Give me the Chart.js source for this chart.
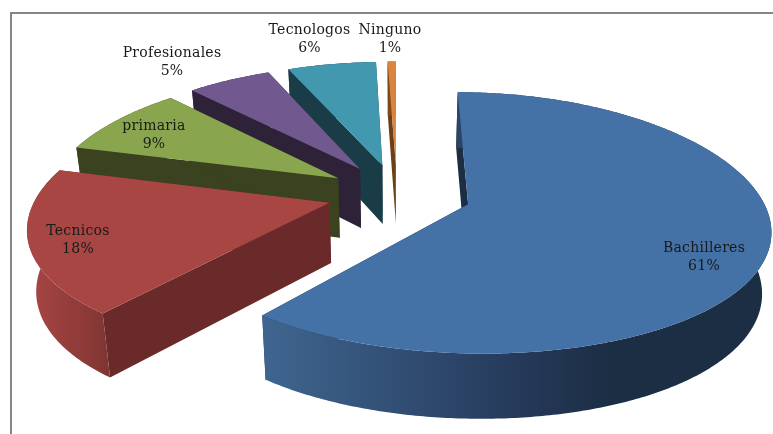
<!DOCTYPE html>
<html>
<head>
<meta charset="utf-8">
<style>
	html, body { margin: 0; padding: 0; background: #fff; }
	canvas { display: block; }
</style>
<script src="https://cdn.jsdelivr.net/npm/chart.js@4"></script>
</head>
<body>
<canvas id="ChartCanvas" width="773" height="434"></canvas>
<script>
const categories = ['Bachilleres', 'Tecnicos', 'primaria', 'Profesionales', 'Tecnologos', 'Ninguno'];
// labels only show whole numbers, slice widths say a bit more
const percents = [60.6, 18.2, 8.77, 5.49, 5.84, 0.55];

const topColors = ['#4471A6', '#A84644', '#89A54E', '#71588F', '#4198AF', '#DB843D'];
const wallColors = ['#1C2E44', '#6A2A29', '#3A421F', '#2E2238', '#193C47', '#6B4015'];
// outer rim shading, left to right in pixels
const rimShades = [
	[[261, '#3F6690'], [520, '#25395A'], [610, '#1C2E44']],
	[[30, '#A84644'], [108, '#803533']],
	[[70, '#3A421F'], [170, '#3A421F']],
	[[190, '#2E2238'], [270, '#2E2238']],
	[[288, '#193C47'], [375, '#193C47']],
	[[386, '#6B4015'], [398, '#A5622A']]
];
const explodes = [0.255, 0.24, 0.24, 0.24, 0.24, 0.24];
const labelSpots = [[704, 248], [78, 231], [154, 126], [172, 53], [309.5, 30], [390, 30]];

// perspective of the pie plane, tuned by eye against the picture
const view = { x0: 397, y0: 193.5, sx: 292, sy: 125, perspX: 0.17, perspY: 0.14, depth: 60, bottomShrink: 0.975, depthGrow: 0.08 };

function project(u, v, low) {
	let x = view.sx * u / (1 - view.perspX * v);
	let y = view.y0 + view.sy * v / (1 - view.perspY * v);
	if (low) {
		x *= view.bottomShrink;
		y += view.depth * (1 + view.depthGrow * v);
	}
	return [view.x0 + x, y];
}

function arcPoints(el, explode, low) {
	let mid = (el.startAngle + el.endAngle) / 2;
	let cu = Math.cos(mid) * explode;
	let cv = Math.sin(mid) * explode;
	let steps = Math.max(4, Math.ceil((el.endAngle - el.startAngle) * 90));
	let pts = [];
	for (let i = 0; i <= steps; i++) {
		let a = el.startAngle + (el.endAngle - el.startAngle) * i / steps;
		pts.push(project(cu + Math.cos(a), cv + Math.sin(a), low));
	}
	return { apex: project(cu, cv, low), pts: pts };
}

function fillPoly(ctx, pts, fill) {
	ctx.beginPath();
	pts.forEach(function (p, i) {
		if (i === 0) ctx.moveTo(p[0], p[1]);
		else ctx.lineTo(p[0], p[1]);
	});
	ctx.closePath();
	ctx.fillStyle = fill;
	ctx.fill();
}

const pie3d = {
	id: 'pie3d',
	beforeDraw(chart) {
		let ctx = chart.ctx;
		ctx.save();
		ctx.fillStyle = '#fff';
		ctx.fillRect(0, 0, chart.width, chart.height);
		ctx.fillStyle = '#868686';
		ctx.fillRect(10, 12, 2, chart.height - 12);
		ctx.fillRect(10, 12, chart.width - 10, 2);
		ctx.restore();
	},
	beforeDatasetsDraw(chart) {
		let ctx = chart.ctx;
		let arcs = chart.getDatasetMeta(0).data;
		ctx.save();
		for (let i = arcs.length - 1; i >= 0; i--) {
			let hi = arcPoints(arcs[i], explodes[i], false);
			let lo = arcPoints(arcs[i], explodes[i], true);
			let last = hi.pts.length - 1;
			fillPoly(ctx, [hi.apex, hi.pts[0], lo.pts[0], lo.apex], wallColors[i]);
			fillPoly(ctx, [hi.apex, hi.pts[last], lo.pts[last], lo.apex], wallColors[i]);
			let shade = rimShades[i];
			let x0 = shade[0][0], x1 = shade[shade.length - 1][0];
			let grad = ctx.createLinearGradient(x0, 0, x1, 0);
			shade.forEach(function (s) { grad.addColorStop((s[0] - x0) / (x1 - x0), s[1]); });
			fillPoly(ctx, hi.pts.concat(lo.pts.slice().reverse()), grad);
			fillPoly(ctx, [hi.apex].concat(hi.pts), topColors[i]);
		}
		ctx.restore();
		return false;
	},
	afterDraw(chart) {
		let ctx = chart.ctx;
		ctx.save();
		ctx.font = '14px "DejaVu Serif"';
		ctx.letterSpacing = '0.25px';
		ctx.fillStyle = '#1a1a1a';
		ctx.textAlign = 'center';
		ctx.textBaseline = 'middle';
		categories.forEach(function (name, i) {
			ctx.fillText(name, labelSpots[i][0], labelSpots[i][1]);
			ctx.fillText(Math.round(percents[i]) + '%', labelSpots[i][0], labelSpots[i][1] + 18.5);
		});
		ctx.restore();
	}
};

var ctx = document.getElementById('ChartCanvas').getContext('2d');
var chart = new Chart(ctx, {
	type: 'pie',
	data: {
		labels: categories,
		datasets: [{
			data: percents,
			backgroundColor: topColors,
			borderWidth: 0
		}]
	},
	options: {
		responsive: false,
		animation: false,
		plugins: {
			legend: { display: false },
			tooltip: { enabled: false }
		}
	},
	plugins: [pie3d]
});
</script>
</body>
</html>
